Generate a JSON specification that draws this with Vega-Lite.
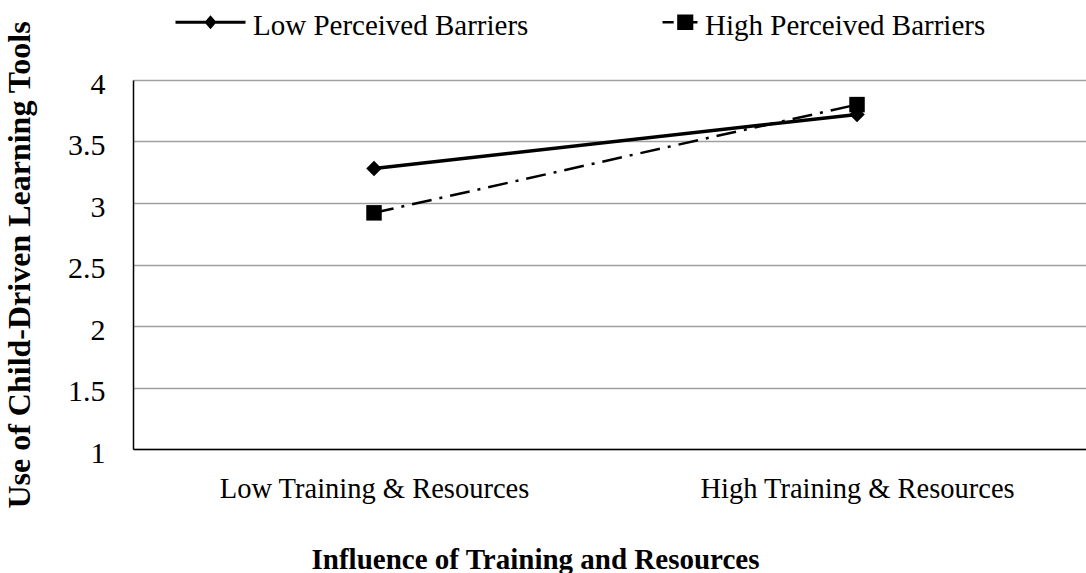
{
  "$schema": "https://vega.github.io/schema/vega-lite/v6.json",
  "width": 953,
  "height": 369,
  "autosize": {"type": "none"},
  "padding": {"left": 133, "top": 80, "right": 0, "bottom": 124},
  "background": "white",
  "config": {
    "view": {"stroke": null},
    "axis": {
      "labelFont": "Liberation Serif",
      "labelFontSize": 28,
      "labelColor": "black",
      "labelLimit": 1000,
      "titleFont": "Liberation Serif",
      "titleFontWeight": "bold",
      "titleColor": "black"
    }
  },
  "data": {
    "values": [
      {"training": "Low Training & Resources", "barrier": "Low Perceived Barriers", "use": 3.28},
      {"training": "High Training & Resources", "barrier": "Low Perceived Barriers", "use": 3.72},
      {"training": "Low Training & Resources", "barrier": "High Perceived Barriers", "use": 2.92},
      {"training": "High Training & Resources", "barrier": "High Perceived Barriers", "use": 3.80}
    ]
  },
  "encoding": {
    "x": {
      "field": "training",
      "type": "nominal",
      "sort": ["Low Training & Resources", "High Training & Resources"],
      "scale": {"type": "point", "padding": 0.4865, "align": 0.5128},
      "axis": {
        "title": "Influence of Training and Resources",
        "titleFontSize": 29,
        "titleX": 402,
        "titleY": 119,
        "titleAlign": "center",
        "titleBaseline": "alphabetic",
        "labelAngle": 0,
        "labelFont": "Liberation Serif",
        "labelFontSize": 28.5,
        "labelLimit": 1000,
        "ticks": false,
        "labelPadding": 48,
        "labelBaseline": "alphabetic",
        "domainColor": "black",
        "domainWidth": 1.5,
        "grid": false
      }
    },
    "y": {
      "field": "use",
      "type": "quantitative",
      "scale": {"domain": [1, 4], "nice": false, "zero": false},
      "axis": {
        "title": "Use of Child-Driven Learning Tools",
        "titleFontSize": 32,
        "titleAngle": -90,
        "titleX": -104,
        "titleY": 184.5,
        "titleAlign": "center",
        "titleBaseline": "alphabetic",
        "values": [1, 1.5, 2, 2.5, 3, 3.5, 4],
        "format": "~g",
        "labelFont": "Liberation Serif",
        "labelFontSize": 30,
        "ticks": false,
        "labelPadding": 28,
        "labelOffset": 4,
        "domainColor": "black",
        "domainWidth": 1.5,
        "grid": true,
        "gridColor": "#a0a0a0",
        "gridWidth": 1.5
      }
    }
  },
  "layer": [
    {
      "transform": [{"filter": "datum.barrier === 'Low Perceived Barriers'"}],
      "mark": {"type": "line", "color": "black", "strokeWidth": 3.5}
    },
    {
      "transform": [{"filter": "datum.barrier === 'High Perceived Barriers'"}],
      "mark": {"type": "line", "color": "black", "strokeWidth": 2.5, "strokeDash": [20, 8, 3, 8]}
    },
    {
      "transform": [{"filter": "datum.barrier === 'Low Perceived Barriers'"}],
      "mark": {"type": "point", "filled": true, "color": "black", "size": 240, "opacity": 1, "shape": "diamond"}
    },
    {
      "transform": [{"filter": "datum.barrier === 'High Perceived Barriers'"}],
      "mark": {"type": "point", "filled": true, "color": "black", "size": 240, "opacity": 1, "shape": "square"}
    },
    {
      "mark": {"type": "point", "filled": true, "color": "black", "opacity": 0, "size": 196},
      "encoding": {
        "shape": {
          "field": "barrier",
          "type": "nominal",
          "scale": {
            "domain": ["Low Perceived Barriers", "High Perceived Barriers"],
            "range": [
              "M-10,-0.71H0V-0.29H-10Z M-5,-1.5L-4.14,-0.5L-5,0.5L-5.86,-0.5Z",
              "M-5,-0.68H-3.4V-0.32H-5Z M-2.9,-1.6H-0.6V0.6H-2.9Z M-0.6,-0.68H0V-0.32H-0.6Z"
            ]
          },
          "legend": {
            "title": null,
            "orient": "none",
            "direction": "horizontal",
            "legendX": 98,
            "legendY": -69,
            "padding": 0,
            "symbolSize": 196,
            "symbolOpacity": 1,
            "symbolFillColor": "black",
            "symbolStrokeWidth": 0,
            "labelFont": "Liberation Serif",
            "labelFontSize": 29,
            "labelColor": "black",
            "labelLimit": 1000,
            "labelOffset": -7,
            "columnPadding": 133,
            "encode": {
              "symbols": {
                "update": {
                  "fill": {"value": "black"},
                  "opacity": {"value": 1}
                }
              }
            }
          }
        }
      }
    }
  ]
}
